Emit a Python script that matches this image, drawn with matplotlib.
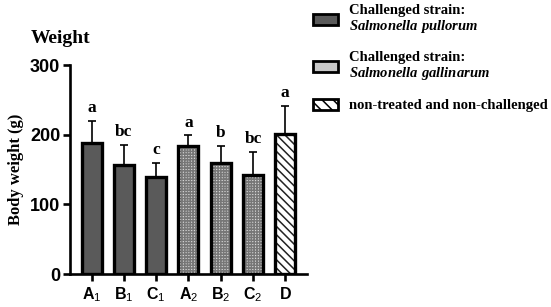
import numpy as np
import matplotlib
matplotlib.use('Agg')
import matplotlib.pyplot as plt
from matplotlib.patches import Patch

plt.rcParams['mathtext.fontset'] = 'custom'
plt.rcParams['mathtext.rm'] = 'Liberation Sans'
plt.rcParams['mathtext.bf'] = 'Liberation Sans:bold'
plt.rcParams['mathtext.it'] = 'Liberation Serif:italic:bold'
plt.rcParams['hatch.linewidth'] = 1.1

# data
groups = ['A1', 'B1', 'C1', 'A2', 'B2', 'C2', 'D']
tick_labels = [r'$\mathbf{A}_\mathrm{1}$', r'$\mathbf{B}_\mathrm{1}$', r'$\mathbf{C}_\mathrm{1}$',
               r'$\mathbf{A}_\mathrm{2}$', r'$\mathbf{B}_\mathrm{2}$', r'$\mathbf{C}_\mathrm{2}$',
               r'$\mathbf{D}$']
weight = [188, 156, 139, 184, 159, 142, 201]
weight_sd = [32, 30, 21, 15, 25, 33, 40]
letters = ['a', 'bc', 'c', 'a', 'b', 'bc', 'a']
strain = ['pullorum', 'pullorum', 'pullorum', 'gallinarum', 'gallinarum', 'gallinarum', 'control']

styles = {
    'pullorum': dict(facecolor='#5a5a5a', hatch=None, hcolor='#5a5a5a'),
    'gallinarum': dict(facecolor='#dadada', hatch='++++++', hcolor='#777777'),
    'control': dict(facecolor='white', hatch='\\\\\\\\', hcolor='#222222'),
}

fig = plt.figure(figsize=(5.51, 3.07), dpi=100)
ax = fig.add_axes([0.127, 0.107, 0.43, 0.681])

x = np.arange(len(groups))
width = 0.62

# error bars (upper only)
ax.errorbar(x, weight, yerr=[np.zeros(len(weight)), weight_sd], fmt='none',
            ecolor='black', elinewidth=1.2, capsize=3, capthick=1.2, zorder=1)

for i, s in enumerate(strain):
    st = styles[s]
    # fill + hatch
    ax.bar(x[i], weight[i], width, color=st['facecolor'], hatch=st['hatch'],
           edgecolor=st['hcolor'], linewidth=0, zorder=2)
    # black outline
    ax.bar(x[i], weight[i], width, fill=False, edgecolor='black', linewidth=2.4, zorder=3)

for i in range(len(groups)):
    ax.text(x[i], weight[i] + weight_sd[i] + 7, letters[i], ha='center', va='bottom',
            fontsize=12.5, fontweight='bold', family='Liberation Serif')

ax.set_xlim(-0.67, 6.67)
ax.set_ylim(0, 300)
ax.set_yticks([0, 100, 200, 300])
ax.set_xticks(x)
ax.set_xticklabels(tick_labels, fontsize=11.5)
for lab in ax.get_yticklabels():
    lab.set_fontsize(13)
    lab.set_fontweight('bold')
    lab.set_family('Liberation Sans')
ax.spines['top'].set_visible(False)
ax.spines['right'].set_visible(False)
ax.spines['left'].set_linewidth(1.9)
ax.spines['bottom'].set_linewidth(1.9)
ax.tick_params(axis='both', length=5, width=1.9, direction='out')
ax.tick_params(axis='y', pad=2)

ax.set_ylabel('Body weight (g)', fontsize=12, fontweight='bold', family='Liberation Serif', labelpad=4)
fig.text(0.056, 0.86, 'Weight', fontsize=14, fontweight='bold', family='Liberation Serif')

handles = [
    Patch(facecolor=styles['pullorum']['facecolor'], edgecolor='black', linewidth=2),
    Patch(facecolor='#c8c8c8', edgecolor='black', linewidth=2),
    Patch(facecolor='white', edgecolor='black', hatch='\\\\\\', linewidth=2),
]
labels = [
    'Challenged strain:\n$\\it{Salmonella\\ pullorum}$',
    'Challenged strain:\n$\\it{Salmonella\\ gallinarum}$',
    'non-treated and non-challenged',
]
leg = fig.legend(handles, labels, loc='upper left', bbox_to_anchor=(0.545, 1.03),
                 frameon=False, prop={'family': 'Liberation Serif', 'weight': 'bold', 'size': 10.5},
                 handlelength=1.7, handleheight=0.8, labelspacing=1.15, handletextpad=0.75)
for t in leg.get_texts():
    t.set_linespacing(1.05)

fig.savefig('out.png', dpi=100)
